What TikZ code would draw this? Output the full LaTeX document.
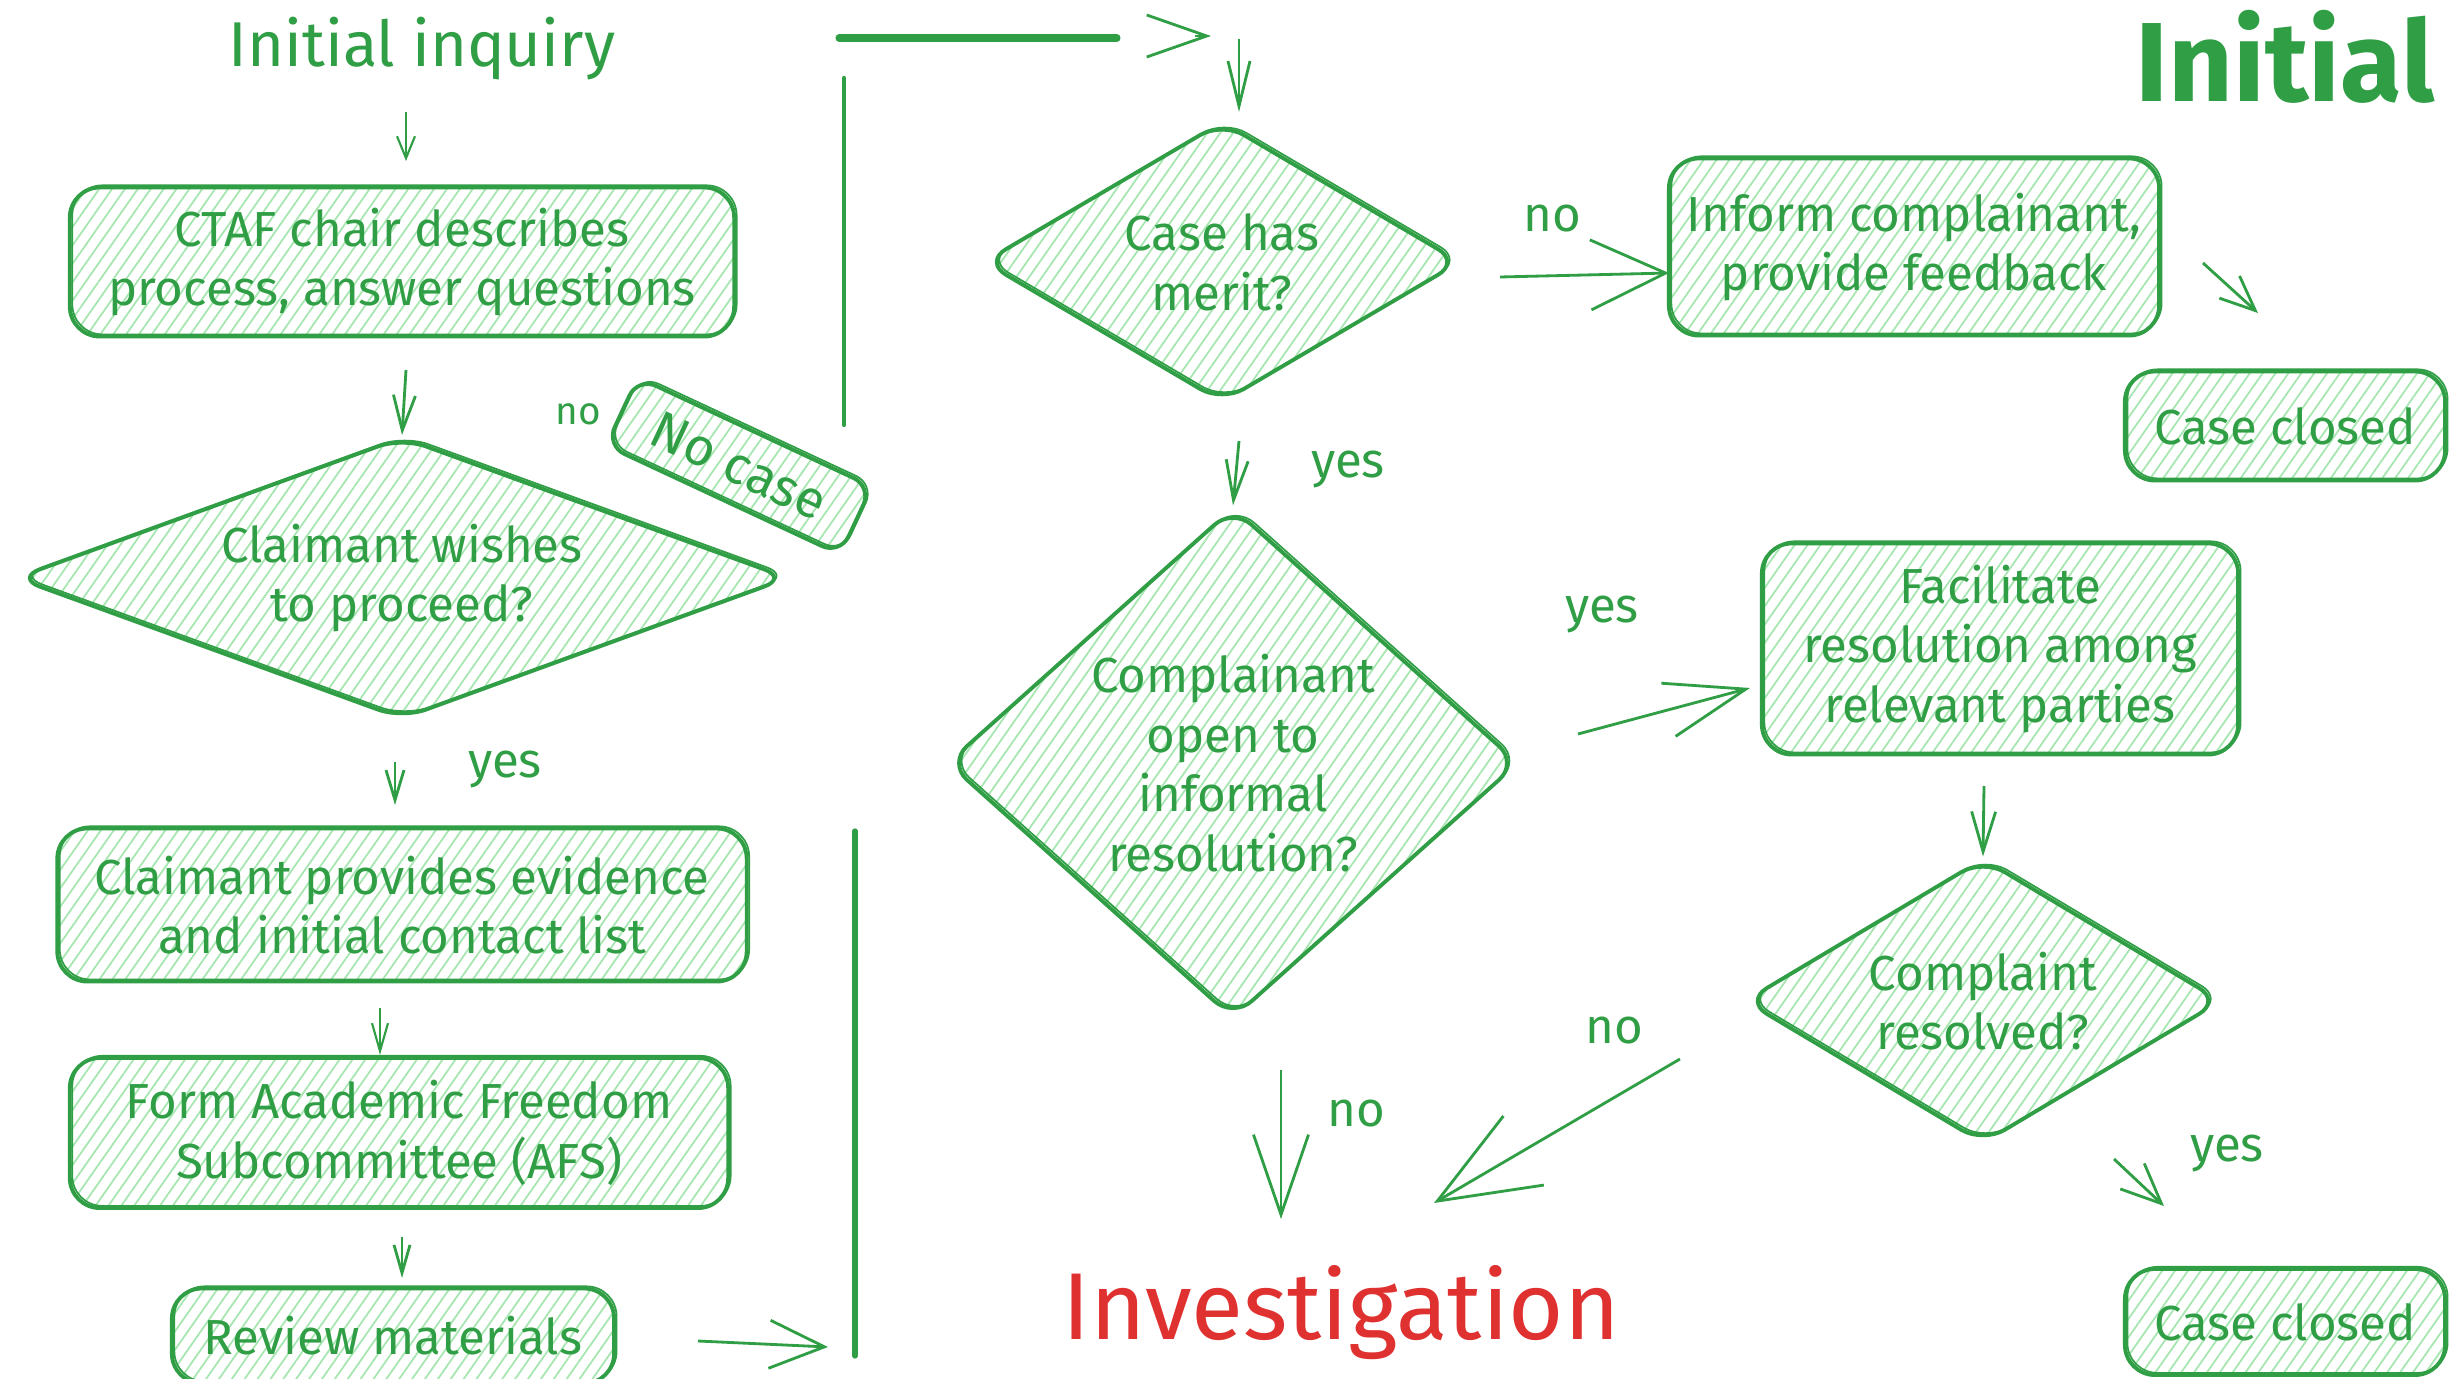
\documentclass[tikz,border=0pt]{standalone}
\usepackage{fontspec}
\setmainfont{Fira Sans}
\usetikzlibrary{arrows.meta,patterns.meta,shapes.geometric}
\definecolor{grn}{HTML}{2F9E44}
\definecolor{hatch}{HTML}{A6E6B0}
\definecolor{redt}{HTML}{E03131}
\begin{document}
\begin{tikzpicture}[x=0.01cm,y=-0.01cm,
  font=\fontsize{14}{17}\selectfont,
  box/.style={draw=grn, line width=1.1pt, rounded corners=0.3cm, text=grn, align=center, inner sep=0pt,
    pattern={Lines[angle=55,distance=3pt,line width=0.5pt]}, pattern color=hatch,
    postaction={draw=grn, line width=0.5pt, transform canvas={shift={(0.7pt,0.6pt)}}}},
  dia/.style={box, diamond, rounded corners=0.25cm, aspect=#1},
  lbl/.style={text=grn, inner sep=0pt},
  arr/.style n args={2}{draw=grn, line width=0.8pt, -{Straight Barb[length=#1, width=#2]}},
  stroke/.style={draw=grn, line cap=round}]

\fill[white] (0,0) rectangle (2450,1379);
\useasboundingbox (0,0) rectangle (2450,1379);

% titles
\node[lbl, font=\fontsize{18}{20}\selectfont, anchor=base] (init) at (422,67) {Initial inquiry};
\node[lbl, font=\fontsize{32}{36}\selectfont\bfseries, anchor=base] (title) at (2285,102) {Initial};
\node[text=redt, inner sep=0pt, font=\fontsize{27}{30}\selectfont, anchor=base] (invest) at (1341,1339) {Investigation};

% left column
\node[box, minimum width=6.64cm, minimum height=1.49cm] (ctaf) at (402,262) {CTAF chair describes\\process, answer questions};
\node[dia=2.74, minimum width=7.73cm, minimum height=2.82cm] (d1) at (402,578) {Claimant wishes\\to proceed?};
\node[box, rotate=-25, minimum width=2.58cm, minimum height=0.75cm, rounded corners=0.2cm, font=\fontsize{15}{17}\selectfont] (nocase) at (739,466) {No case};
\node[box, minimum width=6.89cm, minimum height=1.53cm] (claim) at (402,905) {Claimant provides evidence\\and initial contact list};
\node[box, minimum width=6.58cm, minimum height=1.50cm] (form) at (399,1133) {Form Academic Freedom\\Subcommittee (AFS)};
\node[box, minimum width=4.42cm, minimum height=0.95cm] (review) at (393,1336) {Review materials};

% middle / right
\node[dia=1.70, minimum width=4.77cm, minimum height=2.81cm] (d2) at (1222,262) {Case has\\merit?};
\node[box, minimum width=4.90cm, minimum height=1.77cm] (inform) at (1914,247) {Inform complainant,\\provide feedback};
\node[box, minimum width=3.20cm, minimum height=1.09cm] (closed1) at (2285,426) {Case closed};
\node[dia=1.12, minimum width=5.71cm, minimum height=5.11cm] (d3) at (1233,763) {Complainant\\open to\\informal\\resolution?};
\node[box, minimum width=4.76cm, minimum height=2.11cm] (facil) at (2000,649) {Facilitate\\resolution among\\relevant parties};
\node[dia=1.67, minimum width=4.77cm, minimum height=2.85cm] (d4) at (1983,1001) {Complaint\\resolved?};
\node[box, minimum width=3.20cm, minimum height=1.06cm] (closed2) at (2285,1322) {Case closed};

% labels
\node[lbl, font=\fontsize{11}{13}\selectfont] (lno1) at (578,414) {no};
\node[lbl] (lyes1) at (505,769) {yes};
\node[lbl] (lno2) at (1552,219) {no};
\node[lbl] (lyes2) at (1348,469) {yes};
\node[lbl] (lyes3) at (1602,614) {yes};
\node[lbl] (lno3) at (1614,1031) {no};
\node[lbl] (lno4) at (1356,1114) {no};
\node[lbl] (lyes4) at (2227,1153) {yes};

% free connector ends
\coordinate (a1s) at (406,112); \coordinate (a1e) at (406,161);
\coordinate (a2s) at (406,370);
\coordinate (a3s) at (395,762); \coordinate (a3e) at (395,805);
\coordinate (a4s) at (380,1008); \coordinate (a4e) at (380,1055);
\coordinate (a5s) at (402,1237); \coordinate (a5e) at (402,1278);
\coordinate (a6s) at (698,1341); \coordinate (a6e) at (828,1347);
\coordinate (l1s) at (855,831); \coordinate (l1e) at (855,1356);
\coordinate (l2s) at (844,78); \coordinate (l2e) at (844,425);
\coordinate (l3s) at (839,38); \coordinate (l3e) at (1117,38);
\coordinate (a7s) at (1195,36); \coordinate (a7e) at (1211,36);
\coordinate (a8s) at (1239,39); \coordinate (a8e) at (1239,112);
\coordinate (a9s) at (1500,277); \coordinate (a9e) at (1669,273);
\coordinate (a10s) at (2203,263); \coordinate (a10e) at (2258,313);
\coordinate (a11s) at (1239,441);
\coordinate (a12s) at (1578,734); \coordinate (a12e) at (1750,688);
\coordinate (a13s) at (1984,786);
\coordinate (a14s) at (1680,1059); \coordinate (a14e) at (1434,1203);
\coordinate (a15s) at (1281,1070); \coordinate (a15e) at (1281,1219);
\coordinate (a16s) at (2114,1159); \coordinate (a16e) at (2164,1206);

% connectors
\draw[arr={0.22cm}{0.18cm}, line width=0.6pt] (a1s) -- (a1e);
\draw[arr={0.35cm}{0.22cm}] (a2s) -- (d1.north);
\draw[arr={0.3cm}{0.18cm}] (a3s) -- (a3e);
\draw[arr={0.28cm}{0.16cm}, line width=0.6pt] (a4s) -- (a4e);
\draw[arr={0.28cm}{0.16cm}] (a5s) -- (a5e);
\draw[arr={0.55cm}{0.48cm}] (a6s) -- (a6e);
\draw[stroke, line width=1.5pt] (l1s) -- (l1e);
\draw[stroke, line width=1.2pt] (l2s) -- (l2e);
\draw[stroke, line width=2pt] (l3s) -- (l3e);
\draw[arr={0.6cm}{0.42cm}] (a7s) -- (a7e);
\draw[arr={0.45cm}{0.22cm}] (a8s) -- (a8e);
\draw[arr={0.75cm}{0.7cm}] (a9s) -- (a9e);
\draw[arr={0.35cm}{0.3cm}] (a10s) -- (a10e);
\draw[arr={0.4cm}{0.22cm}] (a11s) -- (d3.north);
\draw[arr={0.8cm}{0.55cm}] (a12s) -- (a12e);
\draw[arr={0.4cm}{0.24cm}] (a13s) -- (d4.north);
\draw[arr={1.0cm}{0.8cm}] (a14s) -- (a14e);
\draw[arr={0.8cm}{0.55cm}] (a15s) -- (a15e);
\draw[arr={0.4cm}{0.35cm}] (a16s) -- (a16e);
\end{tikzpicture}
\end{document}
